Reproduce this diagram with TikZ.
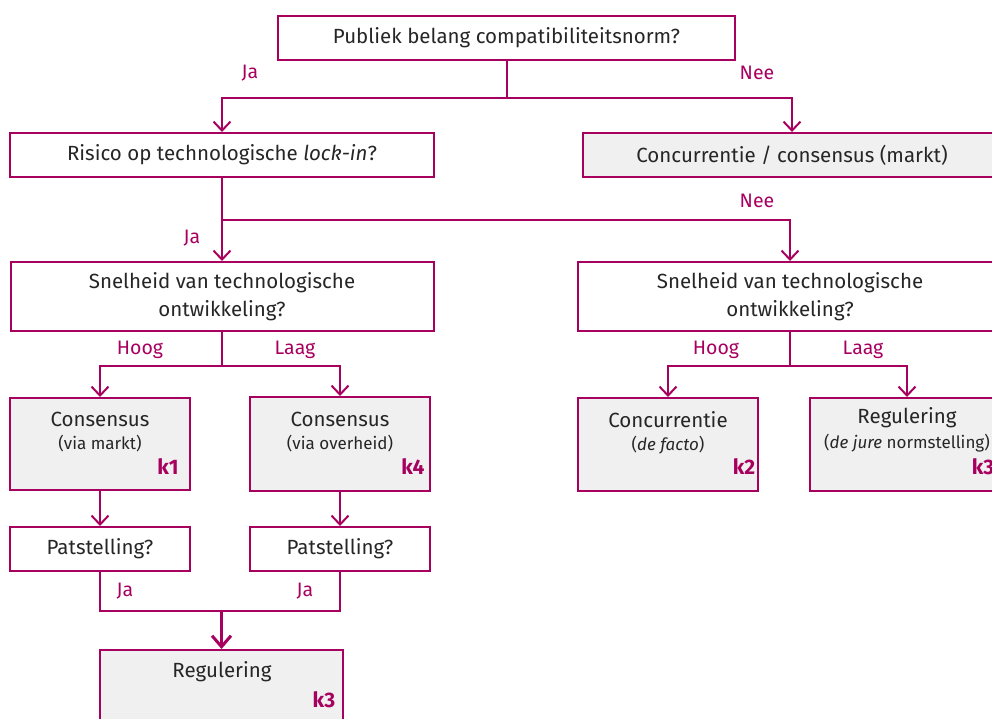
\documentclass[tikz,border=0pt]{standalone}
\usepackage{fontspec}
\setmainfont{Fira Sans}
\usetikzlibrary{arrows.meta}
\definecolor{mag}{HTML}{A8005F}
\definecolor{boxgray}{HTML}{F0F0F0}
\definecolor{txt}{HTML}{262626}
\begin{document}
\begin{tikzpicture}[x=1pt,y=-1pt,
  bx/.style={draw=mag, line width=2pt, fill=white, inner sep=0pt, text=txt,
    font=\fontsize{20.5}{28}\selectfont, align=center},
  gbx/.style={bx, fill=boxgray},
  ln/.style={draw=mag, line width=2pt},
  arr/.style={ln, -{Straight Barb[length=9pt,width=17pt,line width=2pt]}},
  arrbig/.style={draw=mag, line width=3pt, -{Straight Barb[length=11pt,width=19pt,line width=3pt]}},
  lab/.style={text=mag, font=\fontsize{19.5}{22}\selectfont, inner sep=0pt},
  kk/.style={text=mag, font=\fontsize{21}{24}\selectfont\bfseries, inner sep=0pt},
  tt/.style={text=txt, font=\fontsize{20.5}{24}\selectfont, inner sep=0pt, align=center},
  st/.style={text=txt, font=\fontsize{17}{20}\selectfont, inner sep=0pt, align=center},
]
\useasboundingbox (0,0) rectangle (992,718);
\clip (0,0) rectangle (992,718);

% boxes
\node[bx, minimum width=457pt, minimum height=44pt] (top) at (506.5,38) {Publiek belang compatibiliteitsnorm?};
\node[bx, minimum width=424pt, minimum height=44pt] (risk) at (222,155) {Risico op technologische \textit{lock-in}?};
\node[gbx, minimum width=418pt, minimum height=44pt] (conc) at (792,155) {Concurrentie / consensus (markt)};
\node[bx, minimum width=423pt, minimum height=69pt] (snelL) at (222,296.5) {Snelheid van technologische\\ontwikkeling?};
\node[bx, minimum width=424pt, minimum height=69pt] (snelR) at (790,296.5) {Snelheid van technologische\\ontwikkeling?};

\node[gbx, minimum width=180pt, minimum height=92pt] (kone) at (100,444) {};
\node[gbx, minimum width=180pt, minimum height=94pt] (kfour) at (340,444) {};
\node[gbx, minimum width=180pt, minimum height=93pt] (ktwo) at (668,444.5) {};
\node[gbx, minimum width=194pt, minimum height=93pt] (kthree) at (907,444.5) {};

\node[bx, minimum width=180pt, minimum height=44pt] (patL) at (100,549) {Patstelling?};
\node[bx, minimum width=180pt, minimum height=44pt] (patR) at (340,549) {Patstelling?};
\node[gbx, minimum width=243pt, minimum height=90pt] (reg) at (221.5,695) {};

% texts inside grey boxes
\node[tt] (konet) at (100,419) {Consensus};
\node[st] (kones) at (100,444) {(via markt)};
\node[kk] (konek) at (168,467) {k1};
\node[tt] (kfourt) at (340,419) {Consensus};
\node[st] (kfours) at (340,444) {(via overheid)};
\node[kk] (kfourk) at (413,467) {k4};
\node[tt] (ktwot) at (668,420) {Concurrentie};
\node[st] (ktwos) at (668,445) {(\textit{de facto})};
\node[kk] (ktwok) at (744,467) {k2};
\node[tt] (kthreet) at (907,418) {Regulering};
\node[st] (kthrees) at (907,443) {(\textit{de jure} normstelling)};
\node[kk] (kthreek) at (983,467) {k3};
\node[tt] (regt) at (222,672) {Regulering};
\node[kk] (regk) at (324,700) {k3};

% connectors
\path (top.south) ++(0,37) coordinate (jone);
\draw[ln] (top.south) -- (jone);
\draw[arr] (jone) -| (risk.north);
\draw[arr] (jone) -| (conc.north);

\path (risk.south) ++(0,42) coordinate (jtwo);
\draw[arr] (risk.south) -- (snelL.north);
\draw[arr] (jtwo) -| (snelR.north);

\path (snelL.south) ++(0,34) coordinate (jthree);
\draw[ln] (snelL.south) -- (jthree);
\draw[arr] (jthree) -| (kone.north);
\draw[arr] (jthree) -| (kfour.north);

\path (snelR.south) ++(0,34) coordinate (jfour);
\draw[ln] (snelR.south) -- (jfour);
\draw[arr] (jfour) -| (ktwo.north);
\draw[arr] (jfour) -| (kthree.north);

\draw[arr] (kone.south) -- (patL.north);
\draw[arr] (kfour.south) -- (patR.north);

\path (patL.south) ++(0,39) coordinate (jfive);
\draw[ln] (patL.south) -- (jfive) -- (patR.south |- jfive) -- (patR.south);
\coordinate (jsix) at (reg.north |- jfive);
\draw[arrbig] (jsix) -- (reg.north);

% labels
\node[lab] (lja1) at (250,73) {Ja};
\node[lab] (lnee1) at (757,73) {Nee};
\node[lab] (lja2) at (192,238) {Ja};
\node[lab] (lnee2) at (757,201) {Nee};
\node[lab] (lhoog1) at (140,350) {Hoog};
\node[lab] (llaag1) at (295,350) {Laag};
\node[lab] (lhoog2) at (716,350) {Hoog};
\node[lab] (llaag2) at (863,350) {Laag};
\node[lab] (lja3) at (125,591) {Ja};
\node[lab] (lja4) at (305,591) {Ja};
\end{tikzpicture}
\end{document}
